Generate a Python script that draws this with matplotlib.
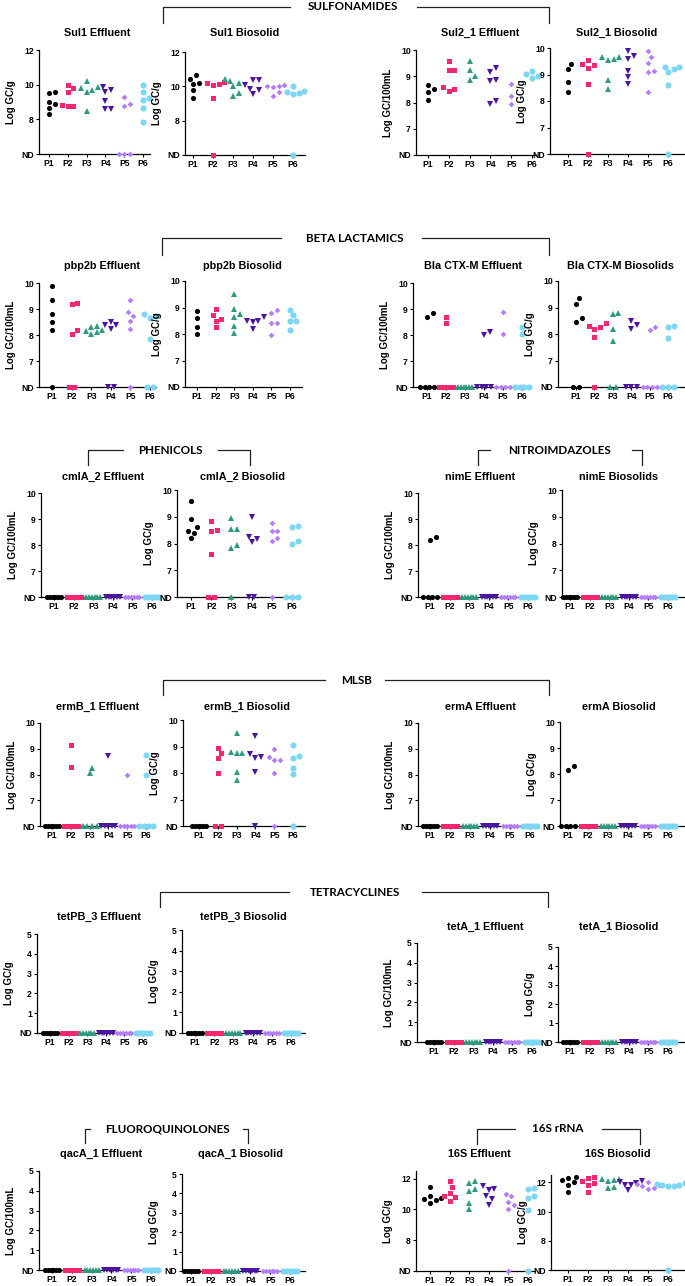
import numpy as np
import matplotlib
matplotlib.use('Agg')
import matplotlib.pyplot as plt

ND = -1.0  # not detected

sites = ['P1', 'P2', 'P3', 'P4', 'P5', 'P6']
colors = ['#000000', '#f2276e', '#2f9a80', '#4b14a0', '#b47dfb', '#7dd7f4']
markers = ['o', 's', '^', 'v', 'D', 'o']
msizes = [3.7, 3.6, 4.1, 4.1, 2.9, 4.4]

ND6 = [ND, ND, ND, ND, ND, ND]

# ---- Log GC values per site (P1..P6) ----
sul1_eff = [[9.6, 9.5, 9.0, 8.9, 8.65, 8.3],
            [10.0, 9.8, 9.6, 8.8, 8.75, 8.75],
            [10.2, 9.85, 9.8, 9.7, 9.6, 8.5],
            [9.85, 9.7, 9.55, 9.05, 8.6, 8.6],
            [9.3, 8.9, 8.75, ND, ND, ND],
            [10.0, 9.6, 9.25, 9.1, 8.65, 7.85]]
sul1_bio = [[10.65, 10.45, 10.2, 10.15, 9.8, 9.3],
            [10.25, 10.2, 10.15, 10.1, 9.3, ND],
            [10.4, 10.3, 10.2, 10.0, 9.6, 9.45],
            [10.35, 10.35, 10.05, 9.85, 9.8, 9.55],
            [10.1, 10.0, 10.0, 9.95, 9.65, 9.45],
            [10.0, 9.7, 9.65, 9.6, 9.55, ND]]
sul2_eff = [[8.65, 8.5, 8.4, 8.1],
            [9.6, 9.25, 9.25, 8.6, 8.5, 8.45],
            [9.6, 9.25, 9.0, 8.85],
            [9.3, 9.15, 8.85, 8.8, 8.05, 7.95],
            [8.7, 8.25, 7.95],
            [9.2, 9.1, 9.0, 8.95]]
sul2_bio = [[9.4, 9.2, 8.7, 8.35],
            [9.55, 9.4, 9.35, 9.25, 8.65, ND],
            [9.65, 9.65, 9.6, 9.55, 8.8, 8.45],
            [9.9, 9.7, 9.6, 9.15, 8.9, 8.65],
            [9.9, 9.65, 9.45, 9.15, 9.1, 8.35],
            [9.3, 9.3, 9.2, 9.1, 8.6, ND]]
pbp2b_eff = [[9.9, 9.35, 8.8, 8.5, 8.2, ND],
             [9.25, 9.2, 8.2, 8.05, ND, ND],
             [8.35, 8.3, 8.2, 8.15, 8.1, 8.05],
             [8.5, 8.4, 8.4, 8.25, ND, ND],
             [9.35, 8.9, 8.75, 8.55, 8.25, ND],
             [8.8, 8.75, 8.65, 7.85, ND, ND]]
pbp2b_bio = [[8.85, 8.6, 8.25, 8.0],
             [8.95, 8.7, 8.55, 8.5, 8.25],
             [9.5, 8.95, 8.75, 8.65, 8.3, 8.05],
             [8.65, 8.5, 8.5, 8.45, 8.2],
             [8.9, 8.8, 8.4, 8.4, 7.95],
             [8.9, 8.7, 8.5, 8.5, 8.15]]
bla_eff = [[8.85, 8.7, ND, ND, ND, ND],
           [8.7, 8.45, ND, ND, ND, ND],
           ND6,
           [8.1, 8.0, ND, ND, ND, ND],
           [8.9, 8.05, ND, ND, ND, ND],
           [8.3, 8.05, ND, ND, ND, ND]]
bla_bio = [[9.35, 9.15, 8.6, 8.45, ND, ND],
           [8.4, 8.3, 8.25, 8.2, 7.9, ND],
           [8.8, 8.75, 8.2, 7.75, ND, ND],
           [8.5, 8.35, 8.2, ND, ND, ND],
           [8.25, 8.15, ND, ND, ND, ND],
           [8.3, 8.25, 7.85, ND, ND, ND]]
cmla_eff = [ND6, ND6, ND6, ND6, ND6, ND6]
cmla_bio = [[9.6, 8.9, 8.6, 8.45, 8.4, 8.2],
            [8.85, 8.5, 8.45, 7.6, ND, ND],
            [8.95, 8.55, 8.55, 7.95, 7.85, ND],
            [9.0, 8.25, 8.15, 8.05, ND, ND],
            [8.75, 8.45, 8.45, 8.2, 8.1, ND],
            [8.65, 8.6, 8.1, 8.0, ND, ND, ND]]
nime_eff = [[8.3, 8.2, ND, ND, ND, ND], ND6, ND6, ND6, ND6, ND6]
nime_bio = [ND6, ND6, ND6, ND6, ND6, ND6]
ermb_eff = [ND6,
            [9.15, 8.3, ND, ND, ND, ND],
            [8.25, 8.05, ND, ND, ND, ND],
            [8.7, ND, ND, ND, ND, ND],
            [8.0, ND, ND, ND, ND, ND],
            [8.75, 8.0, ND, ND, ND, ND]]
ermb_bio = [ND6,
            [8.95, 8.75, 8.55, 8.0, ND, ND],
            [9.5, 8.8, 8.75, 8.75, 8.05, 7.75],
            [9.4, 8.7, 8.6, 8.55, 8.05, ND],
            [8.9, 8.6, 8.5, 8.5, 8.0, ND],
            [9.05, 8.65, 8.55, 8.2, 7.95, ND]]
erma_eff = [ND6, ND6, ND6, ND6, ND6, ND6]
erma_bio = [[8.3, 8.15, ND, ND, ND, ND], ND6, ND6, ND6, ND6, ND6]
tetpb_eff = [ND6, ND6, ND6, ND6, ND6, ND6]
tetpb_bio = [ND6, ND6, ND6, ND6, ND6, ND6]
teta_eff = [ND6, ND6, ND6, ND6, ND6, ND6]
teta_bio = [ND6, ND6, ND6, ND6, ND6, ND6]
qaca_eff = [ND6, ND6, ND6, ND6, ND6, ND6]
qaca_bio = [ND6, ND6, ND6, ND6, ND6, ND6]
s16_eff = [[11.45, 10.85, 10.75, 10.65, 10.6, 10.45],
           [11.85, 11.45, 11.1, 10.85, 10.8, 10.55],
           [11.85, 11.75, 11.35, 11.2, 10.4, 10.0],
           [11.5, 11.35, 11.25, 10.85, 10.65, 10.3],
           [11.0, 10.85, 10.5, 10.3, 10.0, ND],
           [11.4, 11.3, 10.9, 10.75, 9.95, ND]]
s16_bio = [[12.35, 12.3, 12.15, 12.0, 11.85, 11.35],
           [12.35, 12.3, 12.1, 11.95, 11.85, 11.35],
           [12.2, 12.2, 12.15, 12.1, 11.65, 11.6],
           [12.1, 12.05, 11.95, 11.85, 11.8, 11.45],
           [12.05, 11.9, 11.85, 11.75, 11.6, 11.55],
           [11.95, 11.9, 11.85, 11.8, 11.75, 11.75, ND]]

GL = 'Log GC/g'
ML = 'Log GC/100mL'

# y scales: (nd position, top, ticks, labels)
scales = {
    'a': (6, 10, [6, 7, 8, 9, 10], ['ND', '7', '8', '9', '10']),
    'b': (6, 12, [6, 8, 10, 12], ['ND', '8', '10', '12']),
    'c': (0, 5, [0, 1, 2, 3, 4, 5], ['ND', '1', '2', '3', '4', '5']),
    'd': (6, 12.5, [6, 8, 10, 12], ['ND', '8', '10', '12']),
}

# panel: data, title, ylabel, scale, spine x, P1 x, P6 x, right x, top y, ND y, title x, title y (pixels)
panels = [
    (sul1_eff, 'Sul1 Effluent', GL, 'b', 39, 49, 143, 150, 50, 154, 97, 33),
    (sul1_bio, 'Sul1 Biosolid', GL, 'b', 185, 193, 293, 305, 52, 155, 245, 33),
    (sul2_eff, 'Sul2_1 Effluent', ML, 'a', 416, 428, 532, 536, 50, 155, 480, 33),
    (sul2_bio, 'Sul2_1 Biosolid', GL, 'a', 550, 568, 668, 684, 48, 154, 617, 33),
    (pbp2b_eff, 'pbp2b Effluent', ML, 'a', 39, 52, 150, 156, 283, 387, 102, 266),
    (pbp2b_bio, 'pbp2b Biosolid', GL, 'a', 185, 197, 290, 302, 281, 387, 242, 266),
    (bla_eff, 'Bla CTX-M Effluent', ML, 'a', 413, 427, 522, 530, 283, 387, 473, 266),
    (bla_bio, 'Bla CTX-M Biosolids', GL, 'a', 558, 576, 668, 684, 281, 387, 621, 266),
    (cmla_eff, 'cmlA_2 Effluent', ML, 'a', 41, 54, 152, 158, 493, 597, 103, 477),
    (cmla_bio, 'cmlA_2 Biosolid', GL, 'a', 177, 191, 292, 300, 490, 597, 243, 477),
    (nime_eff, 'nimE Effluent', ML, 'a', 418, 430, 528, 535, 493, 597, 480, 477),
    (nime_bio, 'nimE Biosolids', GL, 'a', 562, 570, 668, 684, 490, 597, 619, 477),
    (ermb_eff, 'ermB_1 Effluent', ML, 'a', 40, 52, 146, 152, 723, 826, 98, 707),
    (ermb_bio, 'ermB_1 Biosolid', GL, 'a', 183, 199, 293, 305, 720, 826, 247, 707),
    (erma_eff, 'ermA Effluent', ML, 'a', 418, 430, 530, 535, 723, 826, 480, 707),
    (erma_bio, 'ermA Biosolid', GL, 'a', 560, 568, 668, 684, 722, 826, 619, 707),
    (tetpb_eff, 'tetPB_3 Effluent', GL, 'c', 37, 50, 143, 150, 934, 1033, 99, 917),
    (tetpb_bio, 'tetPB_3 Biosolid', GL, 'c', 182, 195, 291, 305, 930, 1033, 243, 917),
    (teta_eff, 'tetA_1 Effluent', ML, 'c', 417, 434, 532, 535, 943, 1042, 485, 927),
    (teta_bio, 'tetA_1 Biosolid', GL, 'c', 558, 570, 668, 684, 947, 1042, 619, 927),
    (qaca_eff, 'qacA_1 Effluent', ML, 'c', 39, 52, 151, 156, 1171, 1270, 101, 1154),
    (qaca_bio, 'qacA_1 Biosolid', GL, 'c', 182, 191, 290, 305, 1174, 1271, 241, 1154),
    (s16_eff, '16S Effluent', GL, 'd', 416, 430, 528, 535, 1171, 1271, 479, 1154),
    (s16_bio, '16S Biosolid', GL, 'd', 551, 568, 668, 684, 1175, 1270, 618, 1154),
]

# group brackets: label, label x, label y, left x, left inner x, right inner x, right x, drop y
groups = [
    ('SULFONAMIDES', 353, 7, 163, 290, 417, 549, 23),
    ('BETA LACTAMICS', 355, 238, 162, 281, 422, 549, 255),
    ('PHENICOLS', 170, 450, 88, 123, 218, 250, 465),
    ('NITROIMDAZOLES', 560, 450, 478, 490, 632, 642, 465),
    ('MLSB', 357, 680, 163, 325, 385, 549, 695),
    ('TETRACYCLINES', 355, 892, 160, 289, 422, 548, 907),
    ('FLUOROQUINOLONES', 167, 1129, 85, 90, 243, 248, 1143),
    ('16S rRNA', 558, 1129, 477, 515, 602, 640, 1144),
]

W, H = 685, 1286
fig = plt.figure(figsize=(W / 100, H / 100), dpi=100)
title_font = 'Liberation Sans'
group_font = 'Lato'

overlay = fig.add_axes([0, 0, 1, 1])
overlay.set_xlim(0, W)
overlay.set_ylim(H, 0)
overlay.axis('off')


def spread(ypx, is_nd, d, maxhalf):
    # beeswarm style horizontal offsets (pixels)
    n = len(ypx)
    off = np.zeros(n)
    nd_idx = [i for i in range(n) if is_nd[i]]
    if len(nd_idx) > 1:
        step = min(d, 2 * maxhalf / (len(nd_idx) - 1))
        off[nd_idx] = (np.arange(len(nd_idx)) - (len(nd_idx) - 1) / 2) * step
    placed = []
    for i in sorted([i for i in range(n) if not is_nd[i]], key=lambda j: ypx[j]):
        k = 0
        while True:
            cands = [0.0] if k == 0 else [k * d / 2, -k * d / 2]
            ok = None
            for c in cands:
                if all(np.hypot(c - px, ypx[i] - py) >= d for px, py in placed):
                    ok = c
                    break
            if ok is not None:
                off[i] = ok
                placed.append((ok, ypx[i]))
                break
            k += 1
    return off


for (data, title, ylab, sc, sx, p1, p6, rx, ty, ny, tx, tyy) in panels:
    nd_val, ymax, ticks, tlabels = scales[sc]
    ax = fig.add_axes([sx / W, 1 - ny / H, (rx - sx) / W, (ny - ty) / H])
    sp = (p6 - p1) / 5
    ax.set_xlim(-(p1 - sx) / sp, 5 + (rx - p6) / sp)
    ax.set_ylim(nd_val, ymax)
    for s in ['top', 'right']:
        ax.spines[s].set_visible(False)
    for s in ['left', 'bottom']:
        ax.spines[s].set_linewidth(0.9)
    ax.set_yticks(ticks)
    ax.set_yticklabels(tlabels)
    ax.set_xticks(range(6))
    ax.set_xticklabels(sites)
    ax.tick_params(length=2.2, width=0.8, pad=1.5, labelsize=6.2)
    for lab in ax.get_xticklabels() + ax.get_yticklabels():
        lab.set_fontweight('bold')
        lab.set_family(title_font)
    ax.set_ylabel(ylab, fontsize=7, fontweight='bold', family=title_font, labelpad=4)
    ppx = ax.transData.transform((1, 0))[0] - ax.transData.transform((0, 0))[0]
    for i, vals in enumerate(data):
        v = np.array(vals, dtype=float)
        is_nd = v == ND
        y = np.where(is_nd, nd_val, v)
        ypx = ax.transData.transform(np.column_stack([np.zeros(len(y)), y]))[:, 1]
        off = spread(ypx, is_nd, 5.6, 7)
        ax.plot(i + off / ppx, y, linestyle='none', marker=markers[i],
                markersize=msizes[i], color=colors[i], markeredgewidth=0,
                clip_on=False, zorder=3)
    overlay.text(tx, tyy, title, ha='center', va='center', fontsize=7.8,
                 fontweight='bold', family=title_font)

for (lab, lx, ly, x0, x1, x2, x3, dy) in groups:
    overlay.text(lx, ly, lab, ha='center', va='center', fontsize=8.4,
                 fontweight='bold', family=group_font)
    overlay.plot([x0, x0, x1], [dy, ly, ly], color='#222222', lw=0.9)
    overlay.plot([x2, x3, x3], [ly, ly, dy], color='#222222', lw=0.9)

fig.savefig('out.png', dpi=100)
